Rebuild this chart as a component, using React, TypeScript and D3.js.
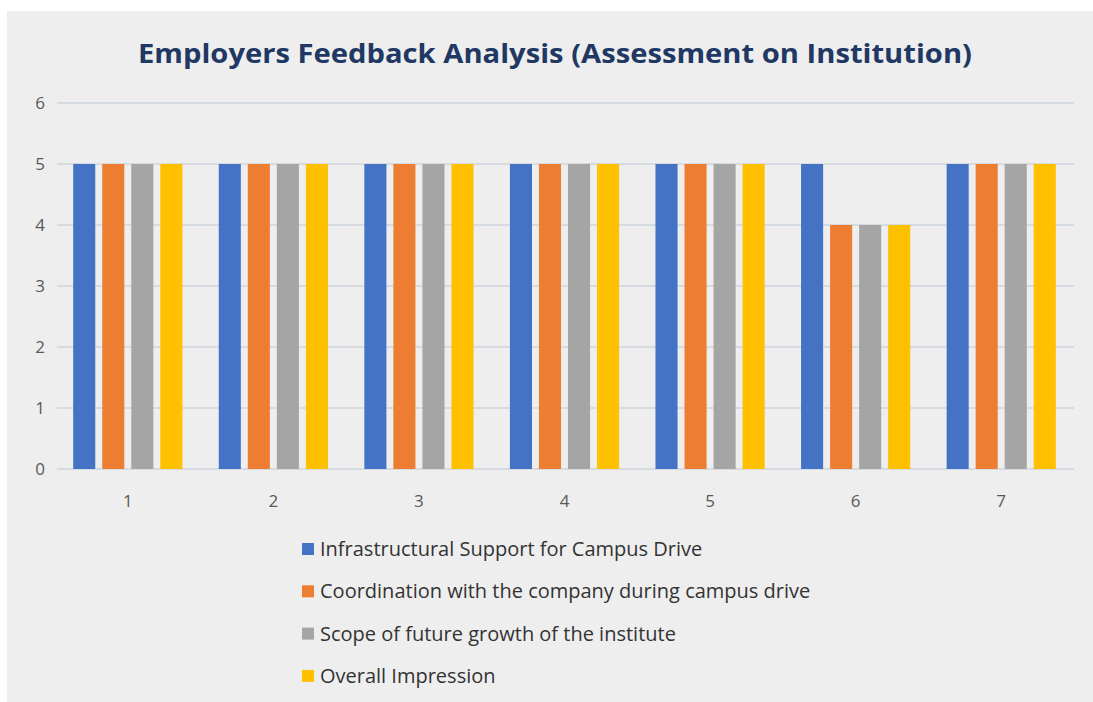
import React from "react";
import * as d3 from "d3";

const categories = ["1", "2", "3", "4", "5", "6", "7"];
const seriesNames = [
  "Infrastructural Support for Campus Drive",
  "Coordination with the company during campus drive",
  "Scope of future growth of the institute",
  "Overall Impression",
];
const infrastructure = [5, 5, 5, 5, 5, 5, 5];
const coordination = [5, 5, 5, 5, 5, 4, 5];
const scopeGrowth = [5, 5, 5, 5, 5, 4, 5];
const overall = [5, 5, 5, 5, 5, 4, 5];
const yTicks = [0, 1, 2, 3, 4, 5, 6];
const colors = ["#4472c4", "#ed7d31", "#a5a5a5", "#ffc000"];
const title = "Employers Feedback Analysis (Assessment on Institution)";

export default function App() {
  const W = 1093, H = 702;
  const series = [infrastructure, coordination, scopeGrowth, overall];
  const x0 = d3.scaleBand<string>().domain(categories).range([55, 1074]).paddingInner(0.25).paddingOuter(0.125);
  const x1 = d3.scaleBand<number>().domain([0, 1, 2, 3]).range([0, x0.bandwidth()]).paddingInner(0.24);
  const y = d3.scaleLinear().domain([0, 6]).range([469, 103]);
  const font = "'Open Sans', 'Noto Sans', sans-serif";
  return (
    <svg width={W} height={H} style={{ position: "absolute", left: 0, top: 0 }} fontFamily={font}>
      <rect x={0} y={0} width={W} height={H} fill="#ffffff" />
      <rect x={7} y={11} width={W - 7} height={H - 11} fill="#eeeeee" />
      <text x={555} y={63} textAnchor="middle" fontSize={27} fontWeight="bold" fill="#1f3864"
        textLength={834} lengthAdjust="spacingAndGlyphs">{title}</text>
      {yTicks.map((t) => (
        <g key={t}>
          <line x1={57} x2={1074} y1={y(t)} y2={y(t)} stroke="#d6dbe2" strokeWidth={2} />
          <text x={40} y={y(t)} dy="0.35em" textAnchor="middle" fontSize={17} fill="#595959">{t}</text>
        </g>
      ))}
      {categories.map((c, i) => (
        <g key={c} transform={`translate(${x0(c)},0)`}>
          {series.map((s, j) => (
            <rect key={j} x={x1(j)} y={y(s[i])} width={x1.bandwidth()} height={y(0) - y(s[i])} fill={colors[j]} />
          ))}
          <text x={x0.bandwidth() / 2} y={501} dy="0.35em" textAnchor="middle" fontSize={17} fill="#595959">{c}</text>
        </g>
      ))}
      {seriesNames.map((n, j) => (
        <g key={n} transform={`translate(302, ${549 + j * 42.3})`}>
          <rect x={0} y={-6} width={12} height={12} fill={colors[j]} />
          <text x={18} y={0} dy="0.35em" fontSize={20} fill="#333333">{n}</text>
        </g>
      ))}
    </svg>
  );
}
